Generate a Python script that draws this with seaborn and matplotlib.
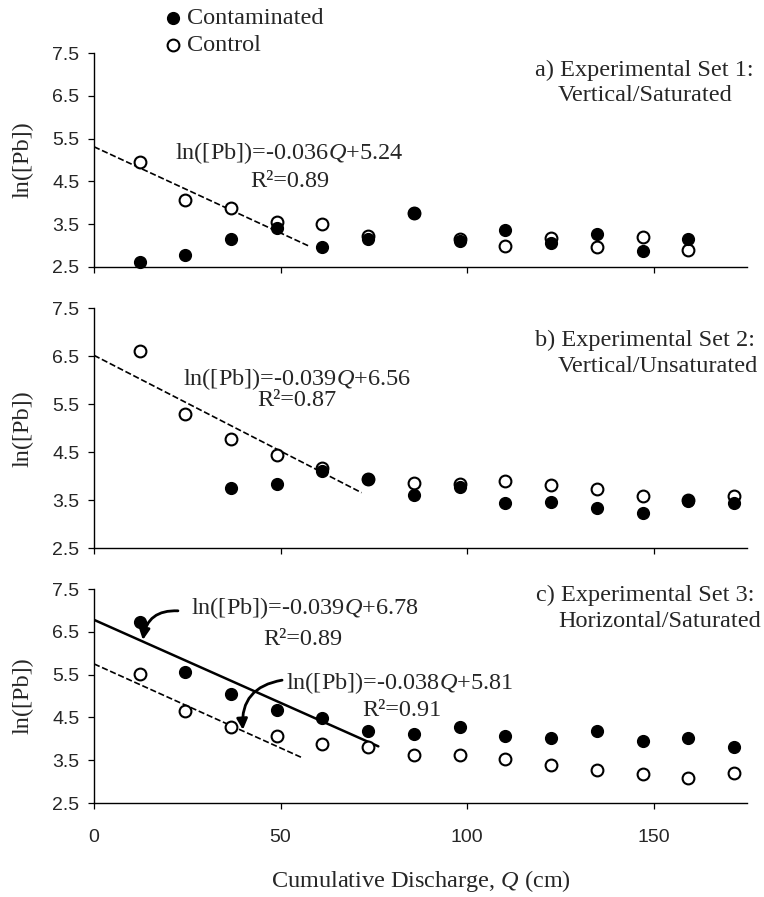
import matplotlib
matplotlib.use("Agg")
import matplotlib.pyplot as plt
import numpy as np
import pandas as pd
import seaborn as sns

# --- data ---
q = [12.2, 24.5, 36.7, 49.0, 61.2, 73.5, 85.7, 98.0, 110.2, 122.5, 134.7, 147.0, 159.2, 171.5]

# a) Vertical/Saturated (13 pore volumes)
contam_a = [2.62, 2.77, 3.14, 3.41, 2.95, 3.16, 3.76, 3.10, 3.36, 3.05, 3.27, 2.87, 3.15]
control_a = [4.96, 4.07, 3.88, 3.55, 3.51, 3.22, 3.76, 3.16, 2.98, 3.17, 2.97, 3.19, 2.88]

# b) Vertical/Unsaturated (contaminated starts at the 3rd sample)
contam_b = [3.75, 3.84, 4.11, 3.94, 3.61, 3.78, 3.44, 3.47, 3.33, 3.24, 3.49, 3.44]
control_b = [6.60, 5.30, 4.77, 4.44, 4.18, 3.94, 3.87, 3.83, 3.91, 3.81, 3.74, 3.59, 3.50, 3.58]

# c) Horizontal/Saturated
contam_c = [6.73, 5.55, 5.05, 4.68, 4.48, 4.18, 4.11, 4.28, 4.07, 4.03, 4.18, 3.96, 4.03, 3.82]
control_c = [5.52, 4.65, 4.27, 4.06, 3.88, 3.80, 3.62, 3.62, 3.53, 3.39, 3.28, 3.17, 3.09, 3.21]

# trend lines as drawn (intercept, slope, last Q)
trend_panel = ["a", "b", "c", "c"]
trend_intercept = [5.31, 6.52, 6.78, 5.75]
trend_slope = [-0.0404, -0.0399, -0.0388, -0.0393]
trend_q_end = [58.0, 71.7, 76.2, 56.1]
trend_style = ["--", "--", "-", "--"]

eq_text = {
    "a": [r"ln([Pb])=-0.036$\mathit{Q}$+5.24", "R²=0.89"],
    "b": [r"ln([Pb])=-0.039$\mathit{Q}$+6.56", "R²=0.87"],
    "c": [r"ln([Pb])=-0.039$\mathit{Q}$+6.78", "R²=0.89",
          r"ln([Pb])=-0.038$\mathit{Q}$+5.81", "R²=0.91"],
}
panel_titles = {
    "a": ["a) Experimental Set 1:", "Vertical/Saturated"],
    "b": ["b) Experimental Set 2:", "Vertical/Unsaturated"],
    "c": ["c) Experimental Set 3:", "Horizontal/Saturated"],
}
y_ticks = [2.5, 3.5, 4.5, 5.5, 6.5, 7.5]
x_ticks = [0, 50, 100, 150]

sns.set_theme(style="ticks")
plt.rcParams["font.family"] = ["Liberation Serif", "DejaVu Serif"]
plt.rcParams["mathtext.fontset"] = "custom"
plt.rcParams["mathtext.rm"] = "Liberation Serif"
plt.rcParams["mathtext.it"] = "Liberation Serif:italic"

FS = 17.5
W, H = 764, 897
fig = plt.figure(figsize=(W / 100, H / 100), dpi=100)

# axes boxes in pixels: (top, bottom)
boxes = {"a": (53.3, 266.7), "b": (308.3, 548.3), "c": (589.0, 803.0)}
left_px, right_px = 94, 747

series = {
    "a": (q[:13], contam_a, q[:13], control_a),
    "b": (q[2:], contam_b, q, control_b),
    "c": (q, contam_c, q, control_c),
}
# (x, y) of each title line in data units
title_pos = {
    "a": [(147.6, 7.11), (147.6, 6.50)],
    "b": [(147.6, 6.83), (151.2, 6.29)],
    "c": [(147.8, 7.35), (151.5, 6.74)],
}

axes = {}
for key, (top, bot) in boxes.items():
    ax = fig.add_axes([left_px / W, 1 - bot / H, (right_px - left_px) / W, (bot - top) / H])
    axes[key] = ax
    qc, yc, qo, yo = series[key]
    df_o = pd.DataFrame({"Q": qo, "lnPb": yo})
    df_c = pd.DataFrame({"Q": qc, "lnPb": yc})
    sns.scatterplot(data=df_o, x="Q", y="lnPb", ax=ax, marker="o", s=72,
                    color="white", edgecolor="black", linewidth=1.5,
                    label="Control", clip_on=False, zorder=3)
    sns.scatterplot(data=df_c, x="Q", y="lnPb", ax=ax, marker="o", s=72,
                    color="black", edgecolor="black", linewidth=1.0,
                    label="Contaminated", clip_on=False, zorder=4)

    for p, b0, b1, qe, ls in zip(trend_panel, trend_intercept, trend_slope, trend_q_end, trend_style):
        if p != key:
            continue
        xs = np.array([0.0, qe])
        sns.lineplot(x=xs, y=b0 + b1 * xs, ax=ax, color="black",
                     linestyle=ls, linewidth=1.8 if ls == "-" else 1.2, zorder=2)

    ax.set_xlim(0, 175)
    ax.set_ylim(2.5, 7.5)
    ax.set_yticks(y_ticks)
    ax.set_yticklabels([f"{v:.1f}" for v in y_ticks], family="Liberation Sans", fontsize=14)
    ax.set_xticks(x_ticks)
    if key == "c":
        ax.set_xticklabels([str(v) for v in x_ticks], family="Liberation Sans", fontsize=14)
        ax.set_xlabel(r"Cumulative Discharge, $\mathit{Q}$ (cm)", fontsize=FS)
        ax.xaxis.set_label_coords(0.5, (803 - 881) / 214)
        ax.xaxis.label.set_va("center")
    else:
        ax.set_xticklabels([])
        ax.set_xlabel("")
    ax.set_ylabel("ln([Pb])", fontsize=FS)
    ax.yaxis.set_label_coords((23 - left_px) / (right_px - left_px), 0.5)
    ax.yaxis.label.set_va("center")
    ax.tick_params(axis="both", direction="out", length=4.5, width=0.9, color="black")
    ax.tick_params(axis="y", pad=6)
    ax.tick_params(axis="x", pad=14)
    for s in ["top", "right"]:
        ax.spines[s].set_visible(False)
    for s in ["left", "bottom"]:
        ax.spines[s].set_color("black")
        ax.spines[s].set_linewidth(1.0)
    ax.get_legend().remove()
    ax.set_facecolor("white")

    for line, (tx, ty) in zip(panel_titles[key], title_pos[key]):
        ax.text(tx, ty, line, ha="center", va="center", fontsize=FS)

# equation labels
ta = axes["a"]
ta.text(52.2, 5.17, eq_text["a"][0], ha="center", va="center", fontsize=FS)
ta.text(52.5, 4.49, eq_text["a"][1], ha="center", va="center", fontsize=FS)
tb = axes["b"]
tb.text(54.5, 6.03, eq_text["b"][0], ha="center", va="center", fontsize=FS)
tb.text(54.4, 5.57, eq_text["b"][1], ha="center", va="center", fontsize=FS)
tc = axes["c"]
tc.text(56.5, 7.06, eq_text["c"][0], ha="center", va="center", fontsize=FS)
tc.text(56, 6.31, eq_text["c"][1], ha="center", va="center", fontsize=FS)
tc.text(82, 5.30, eq_text["c"][2], ha="center", va="center", fontsize=FS)
tc.text(82.5, 4.67, eq_text["c"][3], ha="center", va="center", fontsize=FS)

arrow = dict(arrowstyle="-|>", color="black", lw=2.0, mutation_scale=16,
             connectionstyle="arc3,rad=0.45", shrinkA=0, shrinkB=0)
tc.annotate("", xy=(13.1, 6.31), xytext=(22.5, 6.99), arrowprops=arrow)
tc.annotate("", xy=(39.9, 4.21), xytext=(50.4, 5.37), arrowprops=arrow)

# legend at the top
h, l = axes["a"].get_legend_handles_labels()
order = [l.index("Contaminated"), l.index("Control")]
fig.legend([h[i] for i in order], [l[i] for i in order], loc="upper left",
           bbox_to_anchor=(166 / W, 1 - 7 / H), frameon=False, fontsize=FS,
           handlelength=0.55, handletextpad=0.3, labelspacing=0.2,
           borderpad=0, borderaxespad=0)

fig.savefig("out.png", dpi=100, facecolor="white")
